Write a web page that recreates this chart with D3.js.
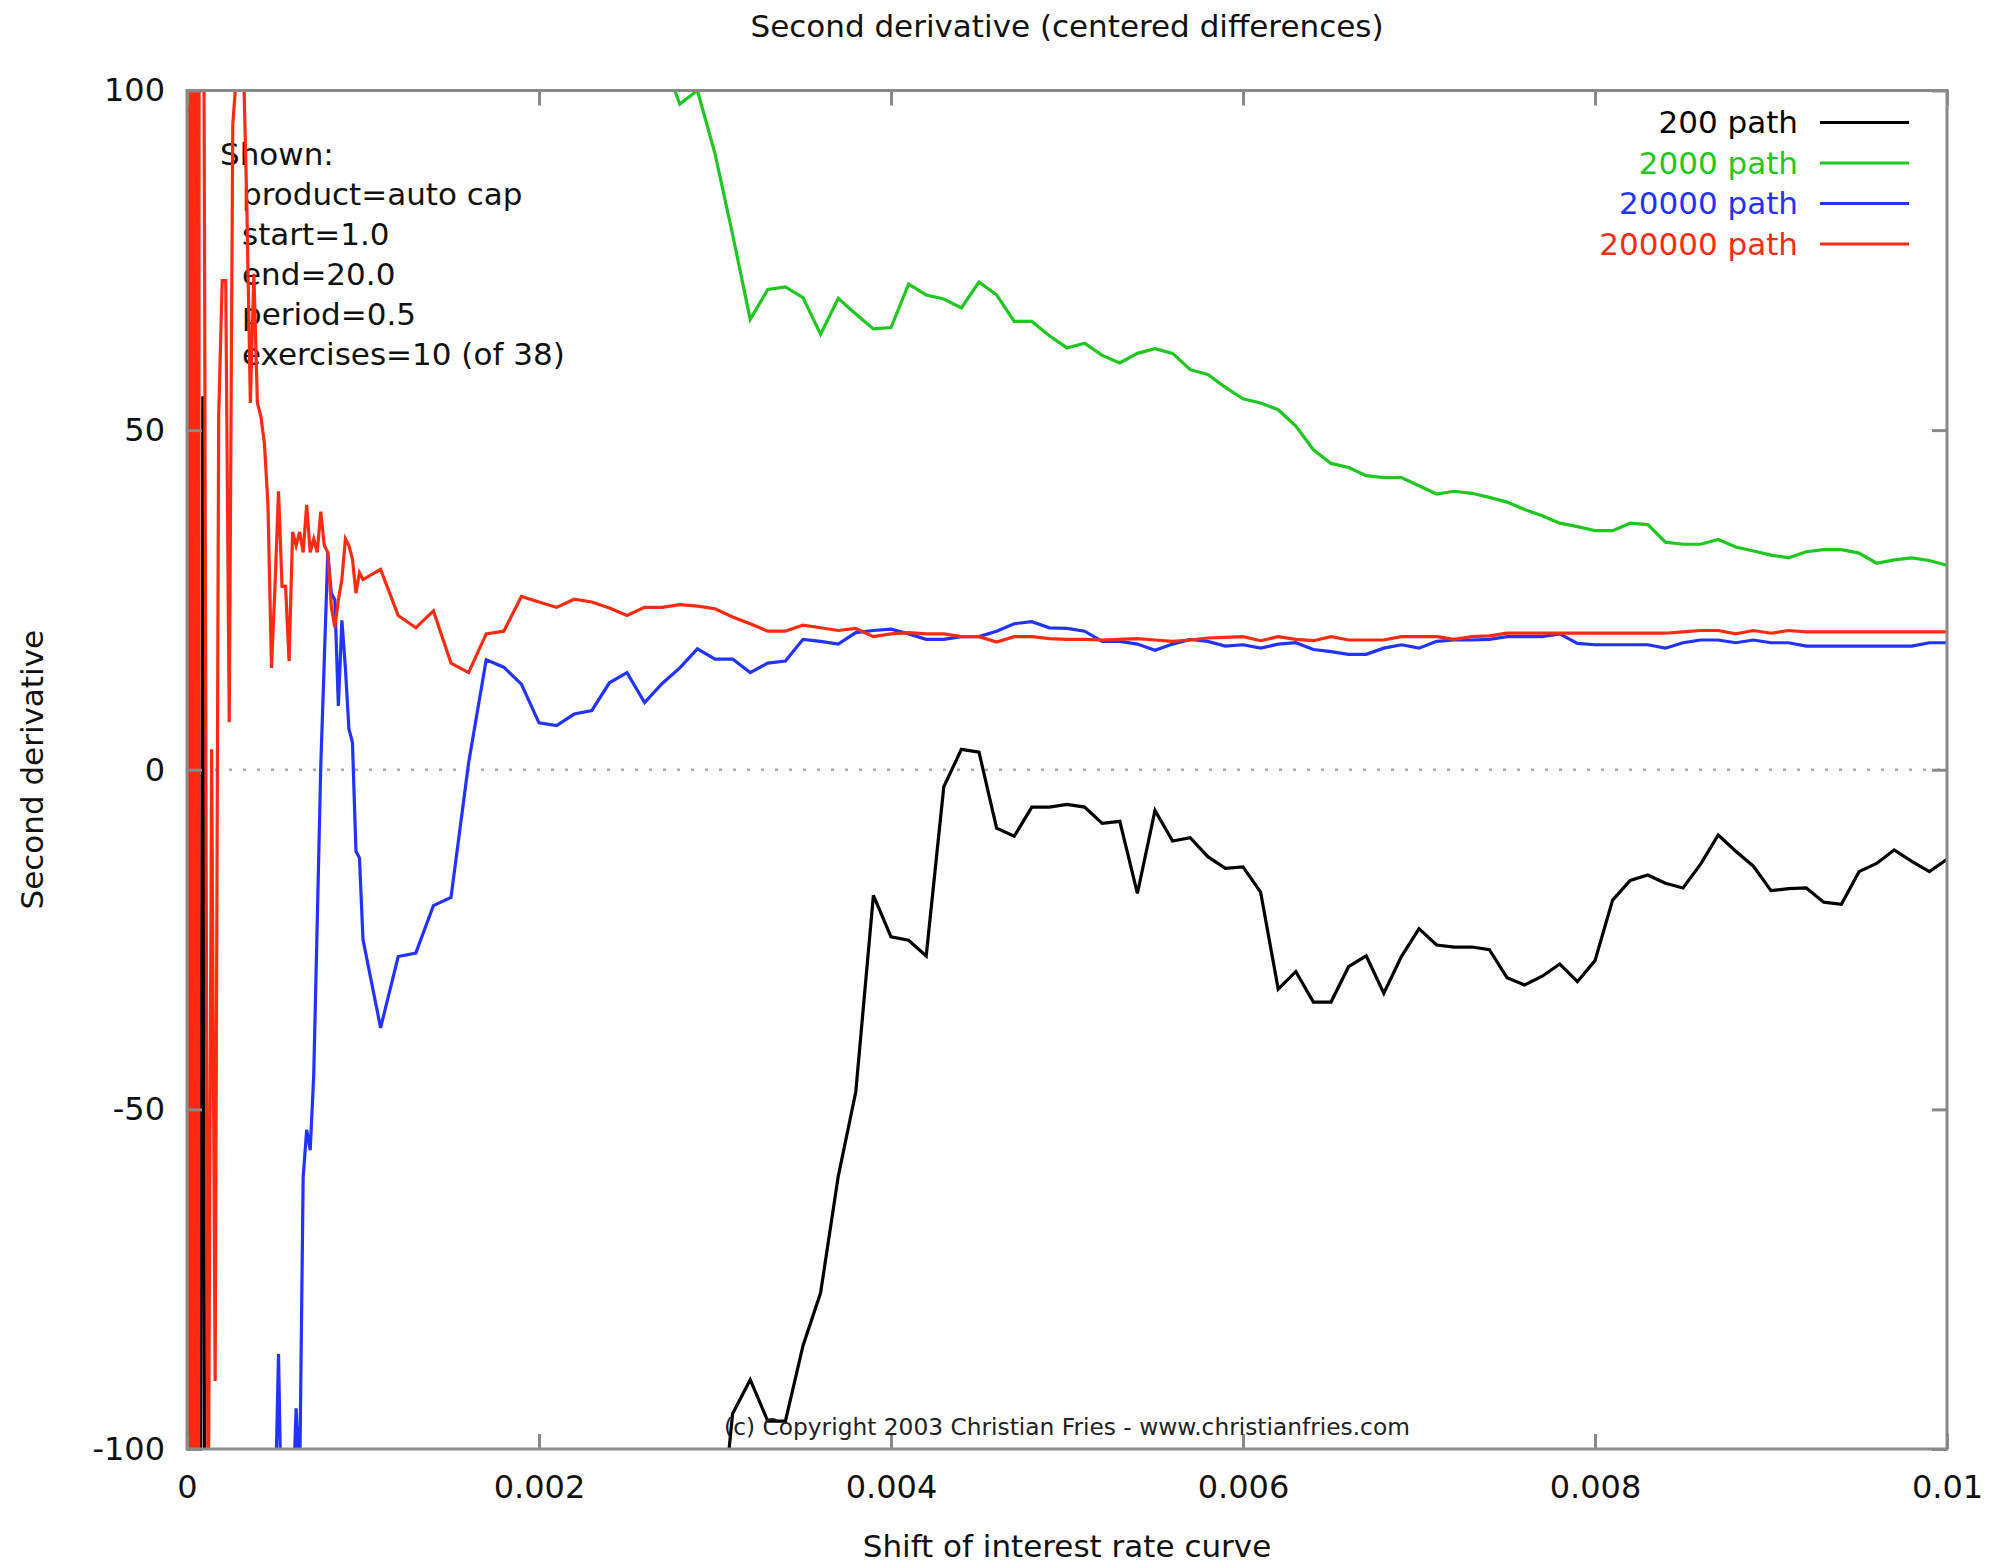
<!DOCTYPE html>
<html>
<head>
<meta charset="utf-8">
<script src="https://cdn.jsdelivr.net/npm/d3@7"></script>
<style>
  body { margin: 0; background: #fff; }
  svg { display: block; font-family: "DejaVu Sans", Verdana, sans-serif; }
</style>
</head>
<body>
<div id="chart"></div>
<script>
// shift grid used from 0.0011 on (step 0.0001)
const shiftCoarse = [
  0.0011, 0.0012, 0.0013, 0.0014, 0.0015, 0.0016, 0.0017, 0.0018, 0.0019, 0.0020,
  0.0021, 0.0022, 0.0023, 0.0024, 0.0025, 0.0026, 0.0027, 0.0028, 0.0029, 0.0030,
  0.0031, 0.0032, 0.0033, 0.0034, 0.0035, 0.0036, 0.0037, 0.0038, 0.0039, 0.0040,
  0.0041, 0.0042, 0.0043, 0.0044, 0.0045, 0.0046, 0.0047, 0.0048, 0.0049, 0.0050,
  0.0051, 0.0052, 0.0053, 0.0054, 0.0055, 0.0056, 0.0057, 0.0058, 0.0059, 0.0060,
  0.0061, 0.0062, 0.0063, 0.0064, 0.0065, 0.0066, 0.0067, 0.0068, 0.0069, 0.0070,
  0.0071, 0.0072, 0.0073, 0.0074, 0.0075, 0.0076, 0.0077, 0.0078, 0.0079, 0.0080,
  0.0081, 0.0082, 0.0083, 0.0084, 0.0085, 0.0086, 0.0087, 0.0088, 0.0089, 0.0090,
  0.0091, 0.0092, 0.0093, 0.0094, 0.0095, 0.0096, 0.0097, 0.0098, 0.0099, 0.0100
]

// 200 path
const blackFine = [
  [0, 300], [0.00001, -300], [0.00002, 300], [0.00003, -300], [0.00004, 300],
  [0.00006, -300], [0.00009, 55], [0.00011, -300], [0.0002, -400]
]
const blackCoarse = [
  null, null, null, null, null, null, null, null, null, null,
  null, null, null, null, null, null, null, null, null, -121,
  -94.8, -89.8, -95.9, -95.9, -84.8, -77.0, -59.9, -47.4, -18.5, -24.6,
  -25.1, -27.4, -2.5, 3.0, 2.6, -8.6, -9.8, -5.5, -5.5, -5.1,
  -5.5, -7.9, -7.6, -18.2, -6.0, -10.5, -10.0, -12.8, -14.5, -14.3,
  -18.0, -32.3, -29.7, -34.2, -34.2, -29.0, -27.4, -32.9, -27.5, -23.4,
  -25.8, -26.1, -26.1, -26.5, -30.6, -31.7, -30.4, -28.6, -31.2, -28.1,
  -19.2, -16.3, -15.5, -16.7, -17.4, -13.9, -9.6, -12.0, -14.2, -17.8,
  -17.5, -17.4, -19.5, -19.8, -15.0, -13.8, -11.8, -13.5, -15.0, -13.2
]

// 2000 path
const greenFine = []
const greenCoarse = [
  null, null, null, null, null, null, null, null, null, null,
  null, null, null, null, null, null, 105, 98.0, 100, 90.7,
  78.8, 66.3, 70.7, 71.1, 69.5, 64.1, 69.4, 67.1, 64.9, 65.1,
  71.5, 69.9, 69.3, 68.0, 71.8, 69.9, 66.0, 66.0, 63.9, 62.1,
  62.8, 61.0, 59.9, 61.3, 62.0, 61.3, 58.9, 58.2, 56.3, 54.6,
  54.0, 53.0, 50.6, 47.1, 45.1, 44.5, 43.3, 43.0, 43.0, 41.8,
  40.6, 41.0, 40.7, 40.1, 39.4, 38.3, 37.4, 36.3, 35.8, 35.2,
  35.2, 36.3, 36.1, 33.5, 33.2, 33.2, 33.9, 32.8, 32.2, 31.6,
  31.2, 32.1, 32.4, 32.4, 31.9, 30.4, 30.9, 31.2, 30.8, 30.1
]

// 20000 path
const blueFine = [
  [0, -400], [0.0004, -300], [0.00048, -150], [0.0005, -110], [0.00052, -86], [0.00054, -115],
  [0.00056, -130], [0.00058, -120], [0.0006, -110], [0.00062, -94], [0.00064, -105], [0.00066, -60],
  [0.00068, -53], [0.0007, -56], [0.00072, -45], [0.00074, -22.5], [0.00076, 0.5], [0.00078, 16],
  [0.0008, 32], [0.00082, 26], [0.00084, 25], [0.00086, 9.4], [0.00088, 22], [0.0009, 15],
  [0.00092, 6], [0.00094, 4], [0.00096, -12], [0.00098, -13], [0.001, -25]
]
const blueCoarse = [
  -38.0, -27.5, -27.0, -20.0, -18.8, 1.0, 16.2, 15.1, 12.6, 6.9,
  6.5, 8.2, 8.7, 12.8, 14.3, 9.9, 12.7, 15.0, 17.8, 16.3,
  16.3, 14.3, 15.7, 16.0, 19.2, 18.9, 18.5, 20.2, 20.5, 20.7,
  20.0, 19.2, 19.2, 19.6, 19.6, 20.4, 21.5, 21.8, 20.9, 20.8,
  20.4, 18.9, 18.9, 18.5, 17.6, 18.5, 19.2, 18.9, 18.2, 18.4,
  17.9, 18.5, 18.7, 17.7, 17.4, 17.0, 17.0, 17.9, 18.4, 17.9,
  18.9, 19.1, 19.1, 19.2, 19.6, 19.6, 19.6, 20.0, 18.6, 18.4,
  18.4, 18.4, 18.4, 17.9, 18.7, 19.1, 19.1, 18.7, 19.1, 18.7,
  18.7, 18.2, 18.2, 18.2, 18.2, 18.2, 18.2, 18.2, 18.7, 18.7
]

// 200000 path
const redFine = [
  [0, 250], [0.00001, -250], [0.00002, 250], [0.000025, -250], [0.00003, 250], [0.000035, -250],
  [0.00004, 250], [0.000045, -250], [0.00005, 250], [0.000055, -250], [0.00006, 250], [0.000065, -250],
  [0.00007, 250], [0.00008, 250], [0.0001, 73],
  [0.00012, -120], [0.00014, 3], [0.00016, -90], [0.00018, 52], [0.0002, 72], [0.00022, 72],
  [0.00024, 7], [0.00026, 95], [0.00028, 102], [0.0003, 104], [0.00032, 105], [0.00034, 83],
  [0.00036, 54], [0.00038, 73], [0.0004, 54], [0.00042, 52], [0.00044, 48], [0.00046, 39],
  [0.00048, 15], [0.0005, 27], [0.00052, 41], [0.00054, 27], [0.00056, 27], [0.00058, 16],
  [0.0006, 35], [0.00062, 33], [0.00064, 35], [0.00066, 32], [0.00068, 39], [0.0007, 32],
  [0.00072, 34], [0.00074, 32], [0.00076, 38], [0.00078, 33], [0.0008, 32], [0.00082, 24],
  [0.00084, 21], [0.00086, 25], [0.00088, 28], [0.0009, 34], [0.00092, 33], [0.00094, 31],
  [0.00096, 26], [0.00098, 29], [0.001, 28]
]
const redCoarse = [
  29.5, 22.7, 20.9, 23.4, 15.7, 14.3, 20.0, 20.4, 25.5, 24.7,
  23.9, 25.1, 24.7, 23.8, 22.7, 23.9, 23.9, 24.3, 24.1, 23.7,
  22.5, 21.5, 20.4, 20.4, 21.3, 20.9, 20.5, 20.8, 19.6, 20.0,
  20.2, 20.0, 20.0, 19.6, 19.6, 18.8, 19.6, 19.6, 19.3, 19.2,
  19.2, 19.1, 19.2, 19.3, 19.1, 18.9, 19.1, 19.4, 19.5, 19.6,
  19.0, 19.6, 19.2, 19.0, 19.6, 19.1, 19.1, 19.1, 19.6, 19.6,
  19.6, 19.2, 19.6, 19.7, 20.1, 20.1, 20.1, 20.1, 20.1, 20.1,
  20.1, 20.1, 20.1, 20.1, 20.3, 20.5, 20.5, 20.0, 20.5, 20.1,
  20.5, 20.3, 20.3, 20.3, 20.3, 20.3, 20.3, 20.3, 20.3, 20.3
]

const seriesNames = ["200 path", "2000 path", "20000 path", "200000 path"]
const seriesColors = ["#000000", "#1ec81e", "#2233ff", "#ff2a12"]

const xTicks = [0, 0.002, 0.004, 0.006, 0.008, 0.01]
const xTickLabels = ["0", "0.002", "0.004", "0.006", "0.008", "0.01"]
const yTicks = [-100, -50, 0, 50, 100]
const yTickLabels = ["-100", "-50", "0", "50", "100"]

const infoLines = ["Shown:", "product=auto cap", "start=1.0", "end=20.0", "period=0.5", "exercises=10 (of 38)"]

function drawChart() {
    // 1. ACCESS DATA
    const xAccessor = d => d.x
    const yAccessor = d => d.y

    const toPoints = (fine, coarse) => fine.map(p => ({x: p[0], y: p[1]}))
        .concat(shiftCoarse.map((x, i) => ({x: x, y: coarse[i]})))

    const dataset = [
        toPoints(blackFine, blackCoarse),
        toPoints(greenFine, greenCoarse),
        toPoints(blueFine, blueCoarse),
        toPoints(redFine, redCoarse)
    ]

    // 2. DIMENSIONS
    let dimensions = {
        width: 1998,
        height: 1566,
        margin: {top: 90.5, right: 51, bottom: 117, left: 187}
    }
    dimensions.boundedWidth = dimensions.width - dimensions.margin.left - dimensions.margin.right
    dimensions.boundedHeight = dimensions.height - dimensions.margin.top - dimensions.margin.bottom

    // 3. DRAW CANVAS
    const wrapper = d3.select("#chart")
        .append("svg")
        .attr("width", dimensions.width)
        .attr("height", dimensions.height)

    const bounds = wrapper.append("g")
        .attr("transform", `translate(${dimensions.margin.left},${dimensions.margin.top})`)

    bounds.append("clipPath")
        .attr("id", "plot-clip")
        .append("rect")
        .attr("width", dimensions.boundedWidth)
        .attr("height", dimensions.boundedHeight)

    // 4. CREATE SCALES
    const xScale = d3.scaleLinear()
        .domain([0, 0.01])
        .range([0, dimensions.boundedWidth])

    const yScale = d3.scaleLinear()
        .domain([-100, 100])
        .range([dimensions.boundedHeight, 0])

    // 5. PERIPHERALS UNDER THE DATA
    bounds.append("line")
        .attr("x1", xScale(0))
        .attr("x2", xScale(0.01))
        .attr("y1", yScale(0))
        .attr("y2", yScale(0))
        .attr("stroke", "#a8a8a8")
        .attr("stroke-width", 2.5)
        .attr("stroke-dasharray", "3,11")

    const info = bounds.append("g")
        .attr("font-size", 31)
        .attr("fill", "#111")
    info.selectAll("text")
        .data(infoLines).join("text")
            .attr("x", (d, i) => i == 0 ? 33 : 55)
            .attr("y", (d, i) => 64 + i * 40)
            .attr("dy", "0.35em")
            .text(d => d)

    // 6. DRAW DATA
    const lineGenerator = d3.line()
        .defined(d => yAccessor(d) !== null)
        .x(d => xScale(xAccessor(d)))
        .y(d => yScale(yAccessor(d)))

    bounds.append("g")
        .attr("clip-path", "url(#plot-clip)")
        .selectAll("path")
        .data(dataset).join("path")
            .attr("d", d => lineGenerator(d))
            .attr("fill", "none")
            .attr("stroke", (d, i) => seriesColors[i])
            .attr("stroke-width", 3.2)

    // 7. AXES AND FRAME
    const axisColor = "#8a8a8a"
    const tickLen = 15

    const styleAxis = g => {
        g.select(".domain").remove()
        g.selectAll(".tick line").attr("stroke", axisColor).attr("stroke-width", 3)
        g.selectAll(".tick text")
            .attr("fill", "#111")
            .style("font-size", "32px")
            .style("font-family", "'DejaVu Sans', Verdana, sans-serif")
    }

    bounds.append("g")
        .attr("transform", `translate(0,${dimensions.boundedHeight})`)
        .call(d3.axisBottom(xScale).tickValues(xTicks).tickSize(-tickLen).tickPadding(26)
            .tickFormat((d, i) => xTickLabels[i]))
        .call(styleAxis)

    bounds.append("g")
        .call(d3.axisTop(xScale).tickValues(xTicks).tickSize(-tickLen).tickFormat(""))
        .call(styleAxis)

    bounds.append("g")
        .call(d3.axisLeft(yScale).tickValues(yTicks).tickSize(-tickLen).tickPadding(22)
            .tickFormat((d, i) => yTickLabels[i]))
        .call(styleAxis)

    bounds.append("g")
        .attr("transform", `translate(${dimensions.boundedWidth},0)`)
        .call(d3.axisRight(yScale).tickValues(yTicks).tickSize(-tickLen).tickFormat(""))
        .call(styleAxis)

    bounds.append("rect")
        .attr("width", dimensions.boundedWidth)
        .attr("height", dimensions.boundedHeight)
        .attr("fill", "none")
        .attr("stroke", axisColor)
        .attr("stroke-width", 3)

    // titles
    wrapper.append("text")
        .attr("x", dimensions.margin.left + dimensions.boundedWidth / 2)
        .attr("y", 26)
        .attr("dy", "0.35em")
        .attr("text-anchor", "middle")
        .attr("font-size", 31)
        .attr("fill", "#111")
        .text("Second derivative (centered differences)")

    wrapper.append("text")
        .attr("x", dimensions.margin.left + dimensions.boundedWidth / 2)
        .attr("y", 1546)
        .attr("dy", "0.35em")
        .attr("text-anchor", "middle")
        .attr("font-size", 31)
        .attr("fill", "#111")
        .text("Shift of interest rate curve")

    wrapper.append("text")
        .attr("transform", `translate(32,${dimensions.margin.top + dimensions.boundedHeight / 2}) rotate(-90)`)
        .attr("dy", "0.35em")
        .attr("text-anchor", "middle")
        .attr("font-size", 31)
        .attr("fill", "#111")
        .text("Second derivative")

    bounds.append("text")
        .attr("x", dimensions.boundedWidth / 2)
        .attr("y", dimensions.boundedHeight - 14)
        .attr("text-anchor", "middle")
        .attr("font-size", 23.3)
        .attr("fill", "#222")
        .text("(c) Copyright 2003 Christian Fries - www.christianfries.com")

    // legend
    const legendGroup = bounds.append("g")
        .attr("transform", `translate(${dimensions.boundedWidth - 149},32)`)

    legendGroup.selectAll("text")
        .data(seriesNames).join("text")
            .attr("x", 0)
            .attr("y", (d, i) => i * 40.5)
            .attr("dy", "0.35em")
            .attr("text-anchor", "end")
            .attr("font-size", 31)
            .attr("fill", (d, i) => seriesColors[i])
            .text(d => d)

    legendGroup.selectAll("line")
        .data(seriesNames).join("line")
            .attr("x1", 22)
            .attr("x2", 111)
            .attr("y1", (d, i) => i * 40.5)
            .attr("y2", (d, i) => i * 40.5)
            .attr("stroke", (d, i) => seriesColors[i])
            .attr("stroke-width", 3)
}

drawChart()
</script>
</body>
</html>
